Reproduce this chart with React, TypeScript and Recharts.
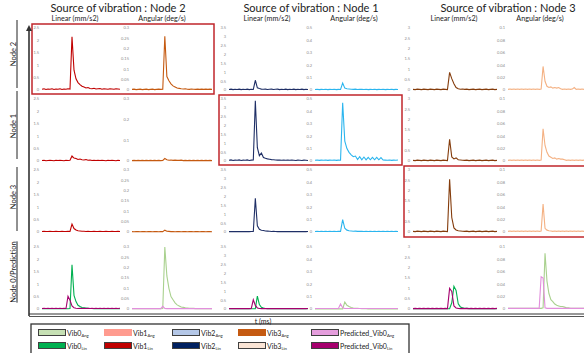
import { LineChart, Line, XAxis, YAxis } from 'recharts';

// time index (samples)
const tIdx = [
  0, 1, 2, 3, 4, 5, 6, 7, 8, 9,
  10, 11, 12, 13, 14, 15, 16, 17, 18, 19,
  20, 21, 22, 23, 24, 25, 26, 27, 28, 29,
  30, 31, 32, 33, 34, 35, 36, 37, 38, 39,
];

// ---- source: Node 2 ----
const n2LinFromN2 = [
  0.03, 0.05, 0.02, 0.04, 0.03, 0.05, 0.02, 0.04, 0.03, 0.05,
  0.02, 0.04, 0.03, 0.05, 0.04, 2.15, 0.8, 0.45, 0.3, 0.22,
  0.15, 0.12, 0.08, 0.1, 0.06, 0.05, 0.07, 0.04, 0.05, 0.06,
  0.03, 0.05, 0.04, 0.03, 0.05, 0.04, 0.03, 0.05, 0.04, 0.03,
];
const n2AngFromN2 = [
  0.003, 0.004, 0.002, 0.003, 0.004, 0.002, 0.003, 0.004, 0.002, 0.003,
  0.004, 0.002, 0.003, 0.004, 0.003, 0.004, 0.26, 0.065, 0.045, 0.03,
  0.02, 0.015, 0.01, 0.008, 0.006, 0.005, 0.006, 0.004, 0.003, 0.005,
  0.004, 0.003, 0.004, 0.003, 0.004, 0.003, 0.004, 0.003, 0.004, 0.003,
];
const n1LinFromN2 = [
  0.02, 0.03, 0.01, 0.02, 0.03, 0.02, 0.01, 0.03, 0.02, 0.03,
  0.02, 0.01, 0.03, 0.02, 0.03, 0.2, 0.12, 0.1, 0.06, 0.08,
  0.05, 0.04, 0.06, 0.03, 0.04, 0.02, 0.03, 0.02, 0.03, 0.02,
  0.03, 0.02, 0.01, 0.03, 0.02, 0.03, 0.02, 0.01, 0.03, 0.02,
];
const n1AngFromN2 = [
  0.002, 0.003, 0.002, 0.003, 0.002, 0.003, 0.002, 0.003, 0.002, 0.003,
  0.002, 0.003, 0.002, 0.003, 0.002, 0.003, 0.012, 0.006, 0.004, 0.005,
  0.003, 0.004, 0.003, 0.003, 0.004, 0.002, 0.003, 0.002, 0.003, 0.002,
  0.003, 0.002, 0.003, 0.002, 0.003, 0.002, 0.003, 0.002, 0.003, 0.002,
];
const n3LinFromN2 = [
  0.02, 0.03, 0.02, 0.02, 0.03, 0.02, 0.02, 0.03, 0.02, 0.02,
  0.03, 0.02, 0.02, 0.03, 0.02, 0.32, 0.14, 0.08, 0.05, 0.04,
  0.03, 0.03, 0.02, 0.03, 0.02, 0.02, 0.03, 0.02, 0.02, 0.03,
  0.02, 0.02, 0.03, 0.02, 0.02, 0.03, 0.02, 0.02, 0.03, 0.02,
];
const n3AngFromN2 = [
  0.002, 0.001, 0.002, 0.002, 0.001, 0.002, 0.002, 0.001, 0.002, 0.002,
  0.001, 0.002, 0.002, 0.001, 0.002, 0.002, 0.009, 0.004, 0.003, 0.002,
  0.002, 0.001, 0.002, 0.002, 0.001, 0.002, 0.002, 0.001, 0.002, 0.002,
  0.001, 0.002, 0.002, 0.001, 0.002, 0.002, 0.001, 0.002, 0.002, 0.001,
];
const vib0LinFromN2 = [
  0.01, 0.01, 0.01, 0.01, 0.01, 0.01, 0.01, 0.01, 0.01, 0.01,
  0.01, 0.01, 0.01, 0.01, 0.02, 1.78, 0.55, 0.3, 0.15, 0.1,
  0.06, 0.05, 0.04, 0.03, 0.02, 0.02, 0.01, 0.01, 0.01, 0.01,
  0.01, 0.01, 0.01, 0.01, 0.01, 0.01, 0.01, 0.01, 0.01, 0.01,
];
const predLinFromN2 = [
  0.02, 0.03, 0.02, 0.03, 0.02, 0.03, 0.02, 0.03, 0.02, 0.03,
  0.02, 0.03, 0.02, 0.51, 0.35, 0.12, 0.05, 0.03, 0.02, 0.03,
  0.02, 0.03, 0.02, 0.03, 0.02, 0.03, 0.02, 0.03, 0.02, 0.03,
  0.02, 0.03, 0.02, 0.03, 0.02, 0.03, 0.02, 0.03, 0.02, 0.03,
];
const vib0AngFromN2 = [
  0.001, 0.001, 0.001, 0.001, 0.001, 0.001, 0.001, 0.001, 0.001, 0.001,
  0.001, 0.001, 0.001, 0.001, 0.001, 0.002, 0.3, 0.16, 0.1, 0.06,
  0.045, 0.03, 0.02, 0.015, 0.01, 0.008, 0.006, 0.005, 0.004, 0.003,
  0.003, 0.002, 0.002, 0.001, 0.001, 0.001, 0.001, 0.001, 0.001, 0.001,
];
const predAngFromN2 = [
  0.002, 0.002, 0.002, 0.002, 0.002, 0.002, 0.002, 0.002, 0.002, 0.002,
  0.002, 0.002, 0.002, 0.002, 0.002, 0.013, 0.003, 0.002, 0.002, 0.002,
  0.002, 0.002, 0.002, 0.002, 0.002, 0.002, 0.002, 0.002, 0.002, 0.002,
  0.002, 0.002, 0.002, 0.002, 0.002, 0.002, 0.002, 0.002, 0.002, 0.002,
];

// ---- source: Node 1 ----
const n2LinFromN1 = [
  0.03, 0.05, 0.02, 0.04, 0.03, 0.05, 0.02, 0.04, 0.03, 0.05,
  0.02, 0.04, 0.03, 0.55, 0.12, 0.08, 0.05, 0.04, 0.05, 0.03,
  0.04, 0.05, 0.03, 0.04, 0.05, 0.02, 0.04, 0.03, 0.05, 0.02,
  0.04, 0.03, 0.05, 0.02, 0.04, 0.03, 0.05, 0.02, 0.04, 0.03,
];
const n2AngFromN1 = [
  0.004, 0.006, 0.003, 0.005, 0.004, 0.006, 0.003, 0.005, 0.004, 0.006,
  0.003, 0.005, 0.004, 0.056, 0.015, 0.01, 0.008, 0.006, 0.005, 0.007,
  0.004, 0.006, 0.005, 0.004, 0.006, 0.003, 0.005, 0.004, 0.006, 0.003,
  0.005, 0.004, 0.006, 0.003, 0.005, 0.004, 0.006, 0.003, 0.005, 0.004,
];
const n1LinFromN1 = [
  0.04, 0.06, 0.03, 0.05, 0.04, 0.06, 0.03, 0.05, 0.04, 0.06,
  0.03, 0.05, 0.06, 3.4, 0.75, 0.3, 0.45, 0.2, 0.15, 0.12,
  0.1, 0.08, 0.07, 0.06, 0.05, 0.06, 0.04, 0.05, 0.04, 0.05,
  0.04, 0.05, 0.04, 0.03, 0.05, 0.04, 0.03, 0.05, 0.04, 0.03,
];
const n1AngFromN1 = [
  0.006, 0.008, 0.005, 0.007, 0.006, 0.008, 0.005, 0.007, 0.006, 0.008,
  0.005, 0.007, 0.006, 0.47, 0.16, 0.1, 0.07, 0.05, 0.035, 0.04,
  0.012, 0.035, 0.01, 0.032, 0.01, 0.03, 0.01, 0.03, 0.01, 0.03,
  0.01, 0.028, 0.008, 0.007, 0.006, 0.008, 0.005, 0.007, 0.006, 0.008,
];
const n3LinFromN1 = [
  0.02, 0.03, 0.02, 0.03, 0.02, 0.03, 0.02, 0.03, 0.02, 0.03,
  0.02, 0.03, 0.03, 1.9, 0.35, 0.15, 0.1, 0.08, 0.06, 0.05,
  0.04, 0.03, 0.04, 0.03, 0.02, 0.03, 0.02, 0.03, 0.02, 0.03,
  0.02, 0.03, 0.02, 0.03, 0.02, 0.03, 0.02, 0.03, 0.02, 0.03,
];
const n3AngFromN1 = [
  0.004, 0.005, 0.004, 0.005, 0.004, 0.005, 0.004, 0.005, 0.004, 0.005,
  0.004, 0.005, 0.005, 0.1, 0.03, 0.015, 0.01, 0.008, 0.006, 0.007,
  0.005, 0.006, 0.005, 0.004, 0.005, 0.004, 0.005, 0.004, 0.005, 0.004,
  0.005, 0.004, 0.005, 0.004, 0.005, 0.004, 0.005, 0.004, 0.005, 0.004,
];
const vib0LinFromN1 = [
  0.01, 0.01, 0.01, 0.01, 0.01, 0.01, 0.01, 0.01, 0.01, 0.01,
  0.01, 0.01, 0.01, 0.01, 0.73, 0.25, 0.1, 0.05, 0.03, 0.02,
  0.01, 0.01, 0.01, 0.01, 0.01, 0.01, 0.01, 0.01, 0.01, 0.01,
  0.01, 0.01, 0.01, 0.01, 0.01, 0.01, 0.01, 0.01, 0.01, 0.01,
];
const predLinFromN1 = [
  0.02, 0.03, 0.02, 0.03, 0.02, 0.03, 0.02, 0.03, 0.02, 0.03,
  0.02, 0.03, 0.52, 0.2, 0.06, 0.03, 0.02, 0.03, 0.02, 0.03,
  0.02, 0.03, 0.02, 0.03, 0.02, 0.03, 0.02, 0.03, 0.02, 0.03,
  0.02, 0.03, 0.02, 0.03, 0.02, 0.03, 0.02, 0.03, 0.02, 0.03,
];
const vib0AngFromN1 = [
  0.001, 0.001, 0.001, 0.001, 0.001, 0.001, 0.001, 0.001, 0.001, 0.001,
  0.001, 0.001, 0.001, 0.001, 0.056, 0.03, 0.02, 0.012, 0.008, 0.006,
  0.005, 0.004, 0.003, 0.002, 0.002, 0.001, 0.001, 0.001, 0.001, 0.001,
  0.001, 0.001, 0.001, 0.001, 0.001, 0.001, 0.001, 0.001, 0.001, 0.001,
];
const predAngFromN1 = [
  0.004, 0.004, 0.004, 0.004, 0.004, 0.004, 0.004, 0.004, 0.004, 0.004,
  0.004, 0.004, 0.04, 0.01, 0.004, 0.004, 0.004, 0.004, 0.004, 0.004,
  0.004, 0.004, 0.004, 0.004, 0.004, 0.004, 0.004, 0.004, 0.004, 0.004,
  0.004, 0.004, 0.004, 0.004, 0.004, 0.004, 0.004, 0.004, 0.004, 0.004,
];

// ---- source: Node 3 ----
const n2LinFromN3 = [
  0.03, 0.02, 0.04, 0.03, 0.02, 0.04, 0.03, 0.02, 0.04, 0.03,
  0.02, 0.04, 0.03, 0.02, 0.04, 0.03, 0.02, 0.85, 0.55, 0.3,
  0.12, 0.06, 0.04, 0.05, 0.03, 0.04, 0.02, 0.03, 0.04, 0.02,
  0.03, 0.04, 0.02, 0.03, 0.04, 0.02, 0.03, 0.04, 0.02, 0.03,
];
const n2AngFromN3 = [
  0.001, 0.0015, 0.001, 0.0015, 0.001, 0.0015, 0.001, 0.0015, 0.001, 0.0015,
  0.001, 0.0015, 0.001, 0.0015, 0.001, 0.0015, 0.001, 0.0015, 0.038, 0.014,
  0.006, 0.004, 0.005, 0.003, 0.004, 0.003, 0.004, 0.002, 0.001, 0.0015,
  0.001, 0.0015, 0.001, 0.0015, 0.004, 0.001, 0.0015, 0.001, 0.0015, 0.001,
];
const n1LinFromN3 = [
  0.03, 0.02, 0.04, 0.03, 0.02, 0.04, 0.03, 0.02, 0.04, 0.03,
  0.02, 0.04, 0.03, 0.02, 0.04, 0.03, 0.02, 1.05, 0.2, 0.1,
  0.15, 0.06, 0.05, 0.04, 0.03, 0.04, 0.02, 0.03, 0.04, 0.02,
  0.03, 0.04, 0.02, 0.03, 0.04, 0.02, 0.03, 0.04, 0.02, 0.03,
];
const n1AngFromN3 = [
  0.001, 0.0015, 0.001, 0.0015, 0.001, 0.0015, 0.001, 0.0015, 0.001, 0.0015,
  0.001, 0.0015, 0.001, 0.0015, 0.001, 0.0015, 0.001, 0.0015, 0.052, 0.025,
  0.014, 0.008, 0.006, 0.004, 0.005, 0.003, 0.004, 0.003, 0.003, 0.002,
  0.001, 0.0015, 0.001, 0.0015, 0.001, 0.0015, 0.001, 0.0015, 0.001, 0.0015,
];
const n3LinFromN3 = [
  0.03, 0.02, 0.04, 0.03, 0.02, 0.04, 0.03, 0.02, 0.04, 0.03,
  0.02, 0.04, 0.03, 0.02, 0.04, 0.03, 0.02, 2.55, 0.7, 0.2,
  0.1, 0.06, 0.05, 0.04, 0.03, 0.04, 0.02, 0.03, 0.04, 0.02,
  0.03, 0.04, 0.02, 0.03, 0.04, 0.02, 0.03, 0.04, 0.02, 0.03,
];
const n3AngFromN3 = [
  0.001, 0.0015, 0.001, 0.0015, 0.001, 0.0015, 0.001, 0.0015, 0.001, 0.0015,
  0.001, 0.0015, 0.001, 0.0015, 0.001, 0.0015, 0.001, 0.0015, 0.045, 0.006,
  0.003, 0.002, 0.0015, 0.001, 0.0015, 0.001, 0.0015, 0.001, 0.0015, 0.001,
  0.0015, 0.001, 0.0015, 0.001, 0.0015, 0.001, 0.0015, 0.001, 0.0015, 0.001,
];
const vib0LinFromN3 = [
  0.01, 0.01, 0.01, 0.01, 0.01, 0.01, 0.01, 0.01, 0.01, 0.01,
  0.01, 0.01, 0.01, 0.01, 0.01, 0.01, 0.01, 0.01, 0.3, 1.1,
  0.9, 0.25, 0.1, 0.06, 0.04, 0.03, 0.02, 0.01, 0.01, 0.01,
  0.01, 0.01, 0.01, 0.01, 0.01, 0.01, 0.01, 0.01, 0.01, 0.01,
];
const predLinFromN3 = [
  0.02, 0.03, 0.02, 0.03, 0.02, 0.03, 0.02, 0.03, 0.02, 0.03,
  0.02, 0.03, 0.02, 0.03, 0.02, 0.03, 0.02, 1.0, 0.85, 0.15,
  0.05, 0.03, 0.02, 0.03, 0.02, 0.03, 0.02, 0.03, 0.02, 0.03,
  0.02, 0.03, 0.02, 0.03, 0.02, 0.03, 0.02, 0.03, 0.02, 0.03,
];
const vib0AngFromN3 = [
  0.001, 0.001, 0.001, 0.001, 0.001, 0.001, 0.001, 0.001, 0.001, 0.001,
  0.001, 0.001, 0.001, 0.001, 0.001, 0.001, 0.001, 0.001, 0.002, 0.09,
  0.045, 0.025, 0.015, 0.012, 0.008, 0.006, 0.005, 0.004, 0.004, 0.003,
  0.002, 0.002, 0.001, 0.001, 0.001, 0.001, 0.001, 0.001, 0.001, 0.001,
];
const predAngFromN3 = [
  0.001, 0.001, 0.001, 0.001, 0.001, 0.001, 0.001, 0.001, 0.001, 0.001,
  0.001, 0.001, 0.001, 0.001, 0.001, 0.001, 0.001, 0.052, 0.05, 0.002,
  0.001, 0.001, 0.001, 0.001, 0.001, 0.001, 0.001, 0.001, 0.001, 0.001,
  0.001, 0.001, 0.001, 0.001, 0.001, 0.001, 0.001, 0.001, 0.001, 0.001,
];

// tick labels
const linTicksN2 = [0, 0.5, 1, 1.5, 2, 2.5];
const linTicksN1 = [0, 0.5, 1, 1.5, 2, 2.5, 3, 3.5];
const linTicksN3 = [0, 0.5, 1, 1.5, 2, 2.5, 3];
const angTicksN2 = [0, 0.05, 0.1, 0.15, 0.2, 0.25, 0.3];
const angTicksN2Coarse = [0, 0.1, 0.2, 0.3];
const angTicksN1 = [0, 0.1, 0.2, 0.3, 0.4, 0.5];
const angTicksN3 = [0, 0.02, 0.04, 0.06, 0.08, 0.1];

const sources = ['Node 2', 'Node 1', 'Node 3'];
const rowLabels = ['Node 2', 'Node 1', 'Node 3', 'Node 0/Prediction'];

const C = {
  n2Lin: '#c00000',
  n2Ang: '#c55a11',
  n1Lin: '#1f2f66',
  n1Ang: '#2bb5ee',
  n3Lin: '#843c0c',
  n3Ang: '#f4b183',
  vib0Lin: '#00b050',
  vib0Ang: '#a9d18e',
  predLin: '#a5006e',
  predAng: '#e28fdc',
};

// layout
const colLeft = [30, 120, 217, 303, 401, 496];
const colWidth = [90, 92, 91, 95, 96, 88];
const rowTop = [25, 96, 167, 244];
const FONT = 'Lato, "Noto Sans", sans-serif';

type S = { values: number[]; color: string };
type P = { ticks: number[]; series: S[] };

const grid: P[][] = [
  [
    { ticks: linTicksN2, series: [{ values: n2LinFromN2, color: C.n2Lin }] },
    { ticks: angTicksN2, series: [{ values: n2AngFromN2, color: C.n2Ang }] },
    { ticks: linTicksN1, series: [{ values: n2LinFromN1, color: C.n1Lin }] },
    { ticks: angTicksN1, series: [{ values: n2AngFromN1, color: C.n1Ang }] },
    { ticks: linTicksN3, series: [{ values: n2LinFromN3, color: C.n3Lin }] },
    { ticks: angTicksN3, series: [{ values: n2AngFromN3, color: C.n3Ang }] },
  ],
  [
    { ticks: linTicksN2, series: [{ values: n1LinFromN2, color: C.n2Lin }] },
    { ticks: angTicksN2Coarse, series: [{ values: n1AngFromN2, color: C.n2Ang }] },
    { ticks: linTicksN1, series: [{ values: n1LinFromN1, color: C.n1Lin }] },
    { ticks: angTicksN1, series: [{ values: n1AngFromN1, color: C.n1Ang }] },
    { ticks: linTicksN3, series: [{ values: n1LinFromN3, color: C.n3Lin }] },
    { ticks: angTicksN3, series: [{ values: n1AngFromN3, color: C.n3Ang }] },
  ],
  [
    { ticks: linTicksN2, series: [{ values: n3LinFromN2, color: C.n2Lin }] },
    { ticks: angTicksN2, series: [{ values: n3AngFromN2, color: C.n2Ang }] },
    { ticks: linTicksN1, series: [{ values: n3LinFromN1, color: C.n1Lin }] },
    { ticks: angTicksN1, series: [{ values: n3AngFromN1, color: C.n1Ang }] },
    { ticks: linTicksN3, series: [{ values: n3LinFromN3, color: C.n3Lin }] },
    { ticks: angTicksN3, series: [{ values: n3AngFromN3, color: C.n3Ang }] },
  ],
  [
    { ticks: linTicksN2, series: [{ values: vib0LinFromN2, color: C.vib0Lin }, { values: predLinFromN2, color: C.predLin }] },
    { ticks: angTicksN2, series: [{ values: vib0AngFromN2, color: C.vib0Ang }, { values: predAngFromN2, color: C.predAng }] },
    { ticks: linTicksN1, series: [{ values: vib0LinFromN1, color: C.vib0Lin }, { values: predLinFromN1, color: C.predLin }] },
    { ticks: angTicksN1, series: [{ values: vib0AngFromN1, color: C.vib0Ang }, { values: predAngFromN1, color: C.predAng }] },
    { ticks: linTicksN3, series: [{ values: vib0LinFromN3, color: C.vib0Lin }, { values: predLinFromN3, color: C.predLin }] },
    { ticks: angTicksN3, series: [{ values: vib0AngFromN3, color: C.vib0Ang }, { values: predAngFromN3, color: C.predAng }] },
  ],
];

const legendItems = [
  { name: 'Vib0', sub: 'Ang', color: '#c6e0b4', x: 38, row: 0, border: true },
  { name: 'Vib0', sub: 'Lin', color: '#00b050', x: 38, row: 1, border: true },
  { name: 'Vib1', sub: 'Ang', color: '#ff9b8f', x: 104, row: 0, border: false },
  { name: 'Vib1', sub: 'Lin', color: '#c00000', x: 104, row: 1, border: true },
  { name: 'Vib2', sub: 'Ang', color: '#b4c7e7', x: 172, row: 0, border: true },
  { name: 'Vib2', sub: 'Lin', color: '#002060', x: 172, row: 1, border: true },
  { name: 'Vib3', sub: 'Ang', color: '#c55a11', x: 238, row: 0, border: false },
  { name: 'Vib3', sub: 'Lin', color: '#fbe5d6', x: 238, row: 1, border: true },
  { name: 'Predicted_Vib0', sub: 'Ang', color: '#e59edd', x: 311, row: 0, border: true },
  { name: 'Predicted_Vib0', sub: 'Lin', color: '#a6006e', x: 311, row: 1, border: true },
];

function Mini({ left, top, width, panel }: { left: number; top: number; width: number; panel: P }) {
  const data = tIdx.map((t, i) => {
    const row: Record<string, number> = { t };
    panel.series.forEach((s, k) => {
      row['s' + k] = s.values[i];
    });
    return row;
  });
  const max = panel.ticks[panel.ticks.length - 1];
  return (
    <div style={{ position: 'absolute', left, top }}>
      <LineChart width={width} height={67} data={data} margin={{ top: 3, right: 0, bottom: 2, left: 0 }}>
        <XAxis dataKey="t" hide />
        <YAxis
          domain={[0, max]}
          ticks={panel.ticks}
          interval={0}
          width={12}
          axisLine={false}
          tickLine={false}
          tickSize={0}
          tickMargin={3}
          tick={{ fontSize: 4, fill: '#8a8a8a', fontFamily: FONT }}
        />
        {panel.series.map((s, k) => (
          <Line
            key={k}
            dataKey={'s' + k}
            stroke={s.color}
            strokeWidth={1.1}
            dot={false}
            type="linear"
            isAnimationActive={false}
          />
        ))}
      </LineChart>
    </div>
  );
}

const titleX = [118, 311, 508];
const subX = [75, 162, 267, 354, 454, 540];
const rowLabelY = [54, 126, 197, 272];

export default function App() {
  return (
    <div style={{ position: 'absolute', left: 0, top: 0, width: 584, height: 353, background: '#fff', overflow: 'hidden', fontFamily: FONT, color: '#222' }}>
      {sources.map((s, i) => (
        <div key={s} style={{ position: 'absolute', left: titleX[i] - 100, top: 1, width: 200, textAlign: 'center', fontSize: 11, lineHeight: '13px' }}>
          Source of vibration : {s}
        </div>
      ))}
      {subX.map((x, i) => (
        <div key={i} style={{ position: 'absolute', left: x - 40, top: 15, width: 80, textAlign: 'center', fontSize: 7.2, lineHeight: '8px' }}>
          {i % 2 === 0 ? 'Linear (mm/s2)' : 'Angular (deg/s)'}
        </div>
      ))}
      {rowLabels.map((r, i) => (
        <div
          key={r}
          style={{
            position: 'absolute',
            left: 13,
            top: rowLabelY[i],
            transform: 'translate(-50%, -50%) rotate(-90deg)',
            whiteSpace: 'nowrap',
            fontSize: 7.5,
            lineHeight: '9px',
            textDecoration: i === 3 ? 'underline' : 'none',
          }}
        >
          {r}
        </div>
      ))}

      {grid.map((row, ri) =>
        row.map((panel, ci) => (
          <Mini key={ri + '-' + ci} left={colLeft[ci]} top={rowTop[ri]} width={colWidth[ci]} panel={panel} />
        ))
      )}

      <svg width={584} height={353} style={{ position: 'absolute', left: 0, top: 0, pointerEvents: 'none' }}>
        {/* highlight boxes */}
        <rect x={32} y={24} width={182} height={70} fill="none" stroke="#c0262b" strokeWidth={1.5} />
        <rect x={219} y={95} width={183} height={70} fill="none" stroke="#c0262b" strokeWidth={1.5} />
        <rect x={404} y={166} width={186} height={71} fill="none" stroke="#c0262b" strokeWidth={1.5} />
        {/* row brackets */}
        <line x1={17} y1={20} x2={17} y2={88} stroke="#222" strokeWidth={1} />
        <line x1={17} y1={91} x2={17} y2={159} stroke="#222" strokeWidth={1} />
        <line x1={17} y1={167} x2={17} y2={231} stroke="#222" strokeWidth={1} />
        {/* axes */}
        <line x1={29} y1={30} x2={29} y2={316} stroke="#333" strokeWidth={1.6} />
        <polygon points="26,31 32,31 29,25" fill="#333" />
        <line x1={29} y1={314} x2={584} y2={314} stroke="#333" strokeWidth={1.2} />
        <line x1={29} y1={316.5} x2={584} y2={316.5} stroke="#555" strokeWidth={1} />
        {/* legend frame */}
        <rect x={31} y={324} width={378} height={40} fill="none" stroke="#333" strokeWidth={1.3} />
      </svg>

      <div style={{ position: 'absolute', left: 248, top: 317, width: 30, textAlign: 'center', fontSize: 7, lineHeight: '9px' }}>t (ms)</div>

      {legendItems.map((it, i) => (
        <div key={i} style={{ position: 'absolute', left: it.x, top: it.row === 0 ? 328 : 341, display: 'flex', alignItems: 'center', height: 9 }}>
          <div
            style={{
              width: 28,
              height: 7,
              boxSizing: 'border-box',
              background: it.color,
              border: it.border ? '1px solid #404040' : 'none',
            }}
          />
          <span style={{ fontSize: 7, marginLeft: 1, whiteSpace: 'nowrap' }}>
            {it.name}
            <span style={{ fontSize: 4.2, position: 'relative', top: 1.5 }}>{it.sub}</span>
          </span>
        </div>
      ))}
    </div>
  );
}
